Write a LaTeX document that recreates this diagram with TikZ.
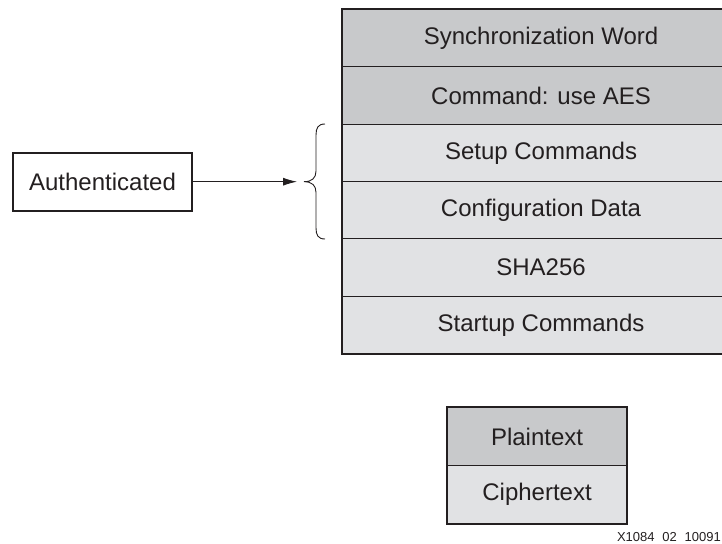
\documentclass[tikz,border=0pt]{standalone}
\usepackage{fontspec}
\setmainfont{Liberation Sans}
\usetikzlibrary{arrows.meta}
\definecolor{dk}{HTML}{C8C9CB}
\definecolor{lt}{HTML}{E1E2E4}
\definecolor{ink}{HTML}{231F20}
\begin{document}
\begin{tikzpicture}[x=1pt,y=-1pt,
  row/.style={draw=ink, line width=1.1pt, minimum width=397pt, minimum height=57.33pt,
    inner sep=0pt, anchor=north west, font=\fontsize{24}{27}\selectfont, text=ink},
  leg/.style={draw=ink, line width=1.1pt, minimum width=179pt, minimum height=58pt,
    inner sep=0pt, anchor=north west, font=\fontsize{24}{27}\selectfont, text=ink},
  frame/.style={draw=ink, line width=2pt},
  conn/.style={draw=ink, line width=0.9pt, -{Latex[length=14pt,width=8pt]}},
  bracepath/.style={draw=ink, line width=0.9pt}]
\useasboundingbox (0,0) rectangle (722,543);
\begin{scope}
\clip (0,0) rectangle (722,543);
% main stack
\node[row, fill=dk] (r1) at (342,9) {Synchronization Word};
\node[row, fill=dk] (r2) at (342,66.33) {Command: use AES};
\node[row, fill=lt] (r3) at (342,123.67) {Setup Commands};
\node[row, fill=lt] (r4) at (342,181) {Configuration Data};
\node[row, fill=lt] (r5) at (342,238.33) {SHA256};
\node[row, fill=lt] (r6) at (342,295.67) {Startup Commands};
\draw[frame] (r1.north west) rectangle (r6.south east);
\end{scope}
% authenticated box
\node[draw=ink, line width=2pt, minimum width=179pt, minimum height=58pt, inner sep=0pt,
  font=\fontsize{24}{27}\selectfont, text=ink] (auth) at (102.5,181.7) {Authenticated};
% brace
\coordinate (tip) at (304,181.7);
\draw[bracepath] (325,124) .. controls (318,124) and (316,128) .. (316,135)
  -- (316,171) .. controls (316,178) and (312,181.7) .. (tip)
  .. controls (312,181.7) and (316,185.4) .. (316,192.4)
  -- (316,228) .. controls (316,235) and (318,239) .. (325,239);
\draw[conn] (auth.east) -- (297,181.7);
% legend
\node[leg, fill=dk] (p) at (447,407) {Plaintext};
\node[leg, fill=lt] (c) at (447,465) {Ciphertext};
\draw[frame] (p.north west) rectangle (c.south east);
% figure id
\node[anchor=east, inner sep=0pt, font=\fontsize{13}{15}\selectfont, text=ink] (fid) at (721,537) {X1084\hspace{0.6em}02\hspace{0.6em}10091};
\end{tikzpicture}
\end{document}
